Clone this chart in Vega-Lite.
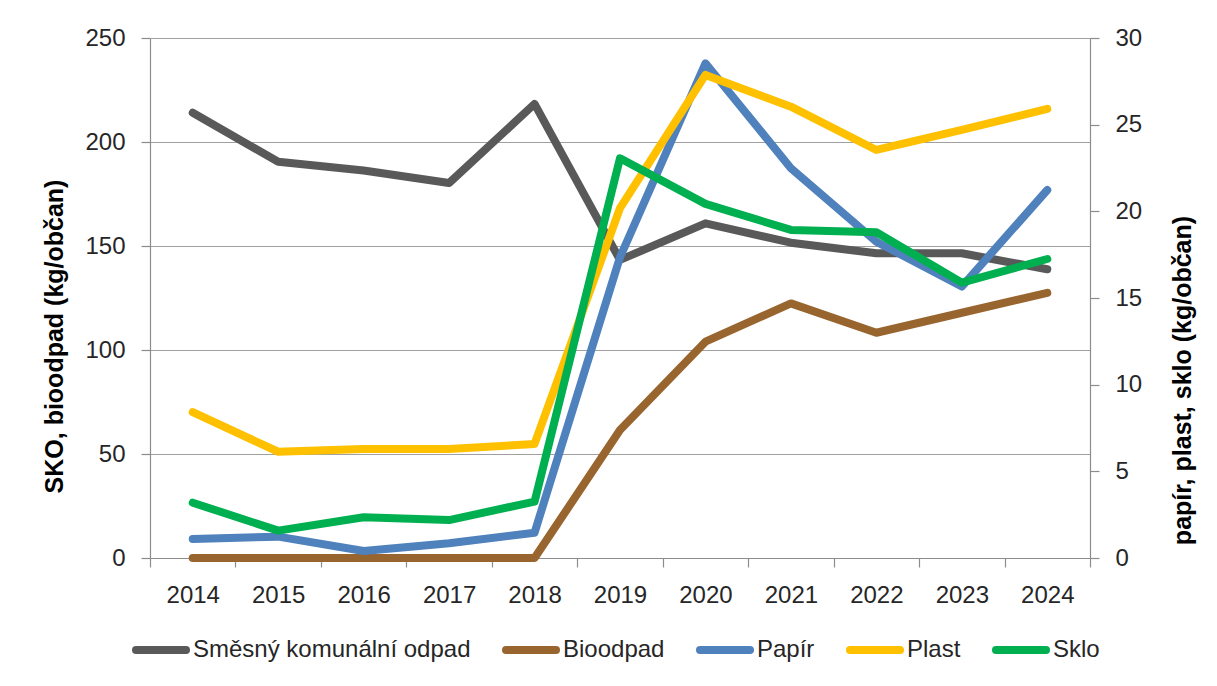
{
  "$schema": "https://vega.github.io/schema/vega-lite/v6.json",
  "width": 940,
  "height": 520,
  "autosize": "none",
  "padding": {"left": 150, "top": 38, "right": 127, "bottom": 128},
  "background": "white",
  "config": {
    "view": {"stroke": null},
    "font": "Liberation Sans",
    "axis": {
      "labelFont": "Liberation Sans",
      "labelFontSize": 24,
      "labelColor": "#262626",
      "titleFont": "Liberation Sans",
      "titleFontSize": 25,
      "titleFontWeight": "bold",
      "titleColor": "#000000",
      "domainColor": "#8c8c8c",
      "tickColor": "#8c8c8c",
      "gridColor": "#a0a0a0",
      "domainWidth": 1.2,
      "tickWidth": 1.2,
      "gridWidth": 1.2
    },
    "legend": {
      "labelFont": "Liberation Sans",
      "labelFontSize": 24,
      "labelColor": "#262626"
    }
  },
  "data": {
    "values": [
      {"year": "2014", "series": "Směsný komunální odpad", "axis": "L", "value": 214.1},
      {"year": "2015", "series": "Směsný komunální odpad", "axis": "L", "value": 190.5},
      {"year": "2016", "series": "Směsný komunální odpad", "axis": "L", "value": 186.3},
      {"year": "2017", "series": "Směsný komunální odpad", "axis": "L", "value": 180.3},
      {"year": "2018", "series": "Směsný komunální odpad", "axis": "L", "value": 218.3},
      {"year": "2019", "series": "Směsný komunální odpad", "axis": "L", "value": 143.3},
      {"year": "2020", "series": "Směsný komunální odpad", "axis": "L", "value": 160.9},
      {"year": "2021", "series": "Směsný komunální odpad", "axis": "L", "value": 151.6},
      {"year": "2022", "series": "Směsný komunální odpad", "axis": "L", "value": 146.5},
      {"year": "2023", "series": "Směsný komunální odpad", "axis": "L", "value": 146.5},
      {"year": "2024", "series": "Směsný komunální odpad", "axis": "L", "value": 138.8},
      {"year": "2014", "series": "Bioodpad", "axis": "L", "value": 0},
      {"year": "2015", "series": "Bioodpad", "axis": "L", "value": 0},
      {"year": "2016", "series": "Bioodpad", "axis": "L", "value": 0},
      {"year": "2017", "series": "Bioodpad", "axis": "L", "value": 0},
      {"year": "2018", "series": "Bioodpad", "axis": "L", "value": 0},
      {"year": "2019", "series": "Bioodpad", "axis": "L", "value": 61.5},
      {"year": "2020", "series": "Bioodpad", "axis": "L", "value": 104},
      {"year": "2021", "series": "Bioodpad", "axis": "L", "value": 122.4},
      {"year": "2022", "series": "Bioodpad", "axis": "L", "value": 108.3},
      {"year": "2023", "series": "Bioodpad", "axis": "L", "value": 117.9},
      {"year": "2024", "series": "Bioodpad", "axis": "L", "value": 127.5},
      {"year": "2014", "series": "Papír", "axis": "R", "value": 1.1},
      {"year": "2015", "series": "Papír", "axis": "R", "value": 1.23},
      {"year": "2016", "series": "Papír", "axis": "R", "value": 0.4},
      {"year": "2017", "series": "Papír", "axis": "R", "value": 0.85},
      {"year": "2018", "series": "Papír", "axis": "R", "value": 1.46},
      {"year": "2019", "series": "Papír", "axis": "R", "value": 17.35},
      {"year": "2020", "series": "Papír", "axis": "R", "value": 28.54},
      {"year": "2021", "series": "Papír", "axis": "R", "value": 22.49},
      {"year": "2022", "series": "Papír", "axis": "R", "value": 18.25},
      {"year": "2023", "series": "Papír", "axis": "R", "value": 15.66},
      {"year": "2024", "series": "Papír", "axis": "R", "value": 21.23},
      {"year": "2014", "series": "Plast", "axis": "R", "value": 8.41},
      {"year": "2015", "series": "Plast", "axis": "R", "value": 6.13},
      {"year": "2016", "series": "Plast", "axis": "R", "value": 6.29},
      {"year": "2017", "series": "Plast", "axis": "R", "value": 6.29},
      {"year": "2018", "series": "Plast", "axis": "R", "value": 6.58},
      {"year": "2019", "series": "Plast", "axis": "R", "value": 20.18},
      {"year": "2020", "series": "Plast", "axis": "R", "value": 27.87},
      {"year": "2021", "series": "Plast", "axis": "R", "value": 26.04},
      {"year": "2022", "series": "Plast", "axis": "R", "value": 23.54},
      {"year": "2023", "series": "Plast", "axis": "R", "value": 24.7},
      {"year": "2024", "series": "Plast", "axis": "R", "value": 25.91},
      {"year": "2014", "series": "Sklo", "axis": "R", "value": 3.19},
      {"year": "2015", "series": "Sklo", "axis": "R", "value": 1.58},
      {"year": "2016", "series": "Sklo", "axis": "R", "value": 2.35},
      {"year": "2017", "series": "Sklo", "axis": "R", "value": 2.19},
      {"year": "2018", "series": "Sklo", "axis": "R", "value": 3.25},
      {"year": "2019", "series": "Sklo", "axis": "R", "value": 23.06},
      {"year": "2020", "series": "Sklo", "axis": "R", "value": 20.43},
      {"year": "2021", "series": "Sklo", "axis": "R", "value": 18.93},
      {"year": "2022", "series": "Sklo", "axis": "R", "value": 18.79},
      {"year": "2023", "series": "Sklo", "axis": "R", "value": 15.89},
      {"year": "2024", "series": "Sklo", "axis": "R", "value": 17.25}
    ]
  },
  "encoding": {
    "x": {
      "field": "year",
      "type": "ordinal",
      "bandPosition": 0.5,
      "scale": {"type": "band", "paddingInner": 0, "paddingOuter": 0},
      "axis": {
        "title": null,
        "labelAngle": 0,
        "tickBand": "extent",
        "tickSize": 9,
        "labelPadding": 16,
        "grid": false
      }
    },
    "color": {
      "field": "series",
      "type": "nominal",
      "scale": {
        "domain": ["Směsný komunální odpad", "Bioodpad", "Papír", "Plast", "Sklo"],
        "range": ["#595959", "#99652F", "#4F81BD", "#FFC000", "#00B050"]
      },
      "legend": {
        "title": null,
        "orient": "none",
        "direction": "horizontal",
        "legendX": -18,
        "legendY": 583,
        "padding": 0,
        "symbolType": "stroke",
        "symbolSize": 2500,
        "symbolStrokeWidth": 8,
        "labelOffset": 3,
        "columnPadding": 19,
        "labelLimit": 400,
        "encode": {"symbols": {"update": {"strokeCap": {"value": "round"}}}}
      }
    }
  },
  "layer": [
    {
      "transform": [{"filter": "datum.axis === 'L'"}],
      "mark": {"type": "line", "strokeWidth": 8, "strokeCap": "round", "strokeJoin": "round"},
      "encoding": {
        "y": {
          "field": "value",
          "type": "quantitative",
          "scale": {"domain": [0, 250], "nice": false, "zero": true},
          "axis": {
            "orient": "left",
            "title": "SKO, bioodpad (kg/občan)",
            "values": [0, 50, 100, 150, 200, 250],
            "grid": true,
            "tickSize": 9,
            "labelPadding": 16,
            "titleAngle": 270,
            "titleX": -96,
            "titleY": 298,
            "titleAlign": "center",
            "titleBaseline": "middle"
          }
        }
      }
    },
    {
      "transform": [{"filter": "datum.axis === 'R'"}],
      "mark": {"type": "line", "strokeWidth": 8, "strokeCap": "round", "strokeJoin": "round"},
      "encoding": {
        "y": {
          "field": "value",
          "type": "quantitative",
          "scale": {"domain": [0, 30], "nice": false, "zero": true},
          "axis": {
            "orient": "right",
            "title": "papír, plast, sklo (kg/občan)",
            "values": [0, 5, 10, 15, 20, 25, 30],
            "grid": false,
            "tickSize": 9,
            "labelPadding": 16,
            "titleAngle": 270,
            "titleX": 92,
            "titleY": 342,
            "titleAlign": "center",
            "titleBaseline": "middle"
          }
        }
      }
    }
  ],
  "resolve": {"scale": {"y": "independent"}}
}
